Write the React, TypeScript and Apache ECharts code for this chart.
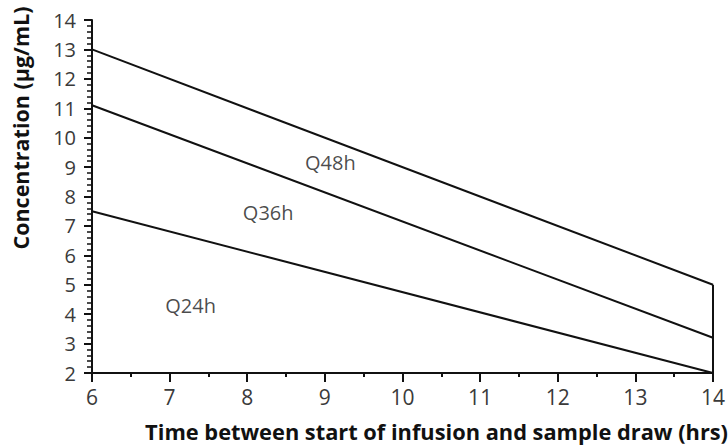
import React, { useEffect, useRef } from "react";
import * as echarts from "echarts";

const q48h: [number, number][] = [[6, 13], [14, 5]];
const q36h: [number, number][] = [[6, 11.1], [14, 3.2]];
const q24h: [number, number][] = [[6, 7.5], [14, 2]];
const rightEdge: [number, number][] = [[14, 2], [14, 5]];
const regionLabels = ["Q48h", "Q36h", "Q24h"];
const regionLabelPos: [number, number][] = [[9.07, 9.14], [8.27, 7.45], [7.27, 4.28]];

const xName = "Time between start of infusion and sample draw (hrs)";
const yName = "Concentration (μg/mL)";

const FONT = "'Open Sans', 'Noto Sans', sans-serif";

export default function App() {
  const ref = useRef<HTMLDivElement>(null);
  useEffect(() => {
    if (!ref.current) return;
    const chart = echarts.init(ref.current, undefined, { renderer: "svg" });
    const lineStyle = { color: "#111", width: 2 };
    const mkLine = (name: string, data: [number, number][]) => ({
      name,
      type: "line",
      data,
      symbol: "none",
      lineStyle,
      silent: true,
    });
    chart.setOption({
      animation: false,
      backgroundColor: "#fff",
      grid: { left: 92, right: 15, top: 20, bottom: 73 },
      xAxis: {
        type: "value",
        min: 6,
        max: 14,
        interval: 1,
        axisLine: { show: true, onZero: false, lineStyle: { color: "#111", width: 2 } },
        axisTick: { show: true, inside: false, length: 9, lineStyle: { color: "#111", width: 2 } },
        minorTick: { show: true, splitNumber: 2, length: 4, lineStyle: { color: "#111", width: 2 } },
        splitLine: { show: false },
        axisLabel: { fontFamily: FONT, fontSize: 21, color: "#3a3a3a", margin: 13 },
      },
      yAxis: {
        type: "value",
        min: 2,
        max: 14,
        interval: 1,
        axisLine: { show: true, onZero: false, lineStyle: { color: "#111", width: 2 } },
        axisTick: { show: true, inside: false, length: 8, lineStyle: { color: "#111", width: 2 } },
        minorTick: { show: true, splitNumber: 5, length: 5, lineStyle: { color: "#111", width: 1.5 } },
        splitLine: { show: false },
        axisLabel: { fontFamily: FONT, fontSize: 20, color: "#3a3a3a", margin: 16 },
      },
      graphic: [
        {
          type: "text",
          x: 20,
          y: 128,
          rotation: Math.PI / 2,
          style: {
            text: yName,
            fontFamily: FONT,
            fontWeight: "bold",
            fontSize: 21.5,
            fill: "#111",
            textAlign: "center",
            textVerticalAlign: "middle",
          },
        },
        {
          type: "text",
          right: 0,
          top: 420,
          style: {
            text: xName,
            fontFamily: FONT,
            fontWeight: "bold",
            fontSize: 21.8,
            fill: "#111",
          },
        },
      ],
      series: [
        mkLine("Q48h", q48h),
        mkLine("Q36h", q36h),
        mkLine("Q24h", q24h),
        mkLine("edge", rightEdge),
        {
          type: "scatter",
          data: regionLabelPos.map((p, i) => ({ value: p, name: regionLabels[i] })),
          symbolSize: 1,
          itemStyle: { color: "transparent" },
          silent: true,
          label: {
            show: true,
            position: "inside",
            formatter: (p: any) => p.name,
            fontFamily: FONT,
            fontSize: 20,
            color: "#1a1a1a",
          },
        },
      ],
    });
    return () => chart.dispose();
  }, []);
  return <div ref={ref} style={{ width: 728, height: 446, position: "fixed", left: 0, top: 0 }} />;
}
